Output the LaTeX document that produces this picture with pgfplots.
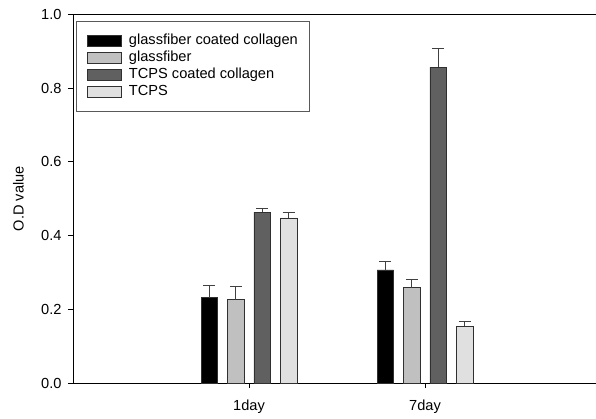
\documentclass[border=0pt]{standalone}
\usepackage{pgfplots}
\pgfplotsset{compat=1.18}
\usepackage{fontspec}
\setmainfont{Liberation Sans}
\definecolor{cblack}{HTML}{000000}
\definecolor{cgray}{HTML}{C0C0C0}
\definecolor{cdark}{HTML}{606060}
\definecolor{clight}{HTML}{E0E0E0}
\definecolor{edge}{HTML}{303030}
\definecolor{errc}{HTML}{404040}
\begin{document}
\begin{tikzpicture}[font=\fontsize{14.6bp}{17bp}\selectfont]
\path[use as bounding box] (-73bp,-36bp) rectangle (523bp,368.5bp+14.5bp);
\begin{axis}[
  at={(0,0)}, anchor=south west,
  scale only axis, width=523bp, height=368.5bp,
  xmin=0, xmax=2.9716, ymin=0, ymax=1.0,
  axis x line=box, axis y line=left,
  axis line style={-, line width=0.8bp, black},
  xtick={1,2}, xticklabels={1day,7day},
  xtick pos=bottom, ytick pos=left,
  ytick={0,0.2,0.4,0.6,0.8,1.0},
  yticklabel style={/pgf/number format/fixed, /pgf/number format/precision=1, /pgf/number format/fixed zerofill, xshift=-3bp},
  /pgf/number format/assume math mode=true,
  tick align=outside, major tick length=5bp,
  tick style={line width=0.8bp, black},
  ylabel={O.D value},
  ylabel style={at={(axis description cs:-0.1042,0.5)}, anchor=center},
  xticklabel style={yshift=-8bp},
  bar width=0.094,
  legend style={at={(axis description cs:0.0057,0.983)}, anchor=north west,
    draw=gray!70!black, line width=0.8bp, inner xsep=11bp, inner ysep=12bp,
    row sep=2bp, column sep=6bp,
    nodes={inner xsep=1bp, inner ysep=1bp, text height=10bp, text depth=3bp, anchor=west},
    font=\fontsize{14.6bp}{17bp}\selectfont},
  legend cell align=left,
  legend image code/.code={\draw[#1, line width=0.6bp] (0bp,-5.5bp) rectangle (34bp,5.5bp);},
  every axis plot/.append style={ybar, bar shift=0pt, draw=edge, line width=0.6bp,
    error bars/y dir=plus, error bars/y explicit,
    error bars/error bar style={color=errc, line width=0.9bp},
    error bars/error mark options={rotate=90, mark size=6bp, line width=0.9bp, color=errc}},
]
\addplot[fill=cblack] coordinates {(0.775,0.232) +- (0,0.032) (1.775,0.307) +- (0,0.024)};
\addlegendentry{glassfiber coated collagen}
\addplot[fill=cgray] coordinates {(0.925,0.226) +- (0,0.037) (1.925,0.259) +- (0,0.021)};
\addlegendentry{glassfiber}
\addplot[fill=cdark] coordinates {(1.075,0.464) +- (0,0.011) (2.075,0.857) +- (0,0.052)};
\addlegendentry{TCPS coated collagen}
\addplot[fill=clight] coordinates {(1.225,0.448) +- (0,0.015) (2.225,0.154) +- (0,0.012)};
\addlegendentry{TCPS}
\end{axis}
\end{tikzpicture}
\end{document}
